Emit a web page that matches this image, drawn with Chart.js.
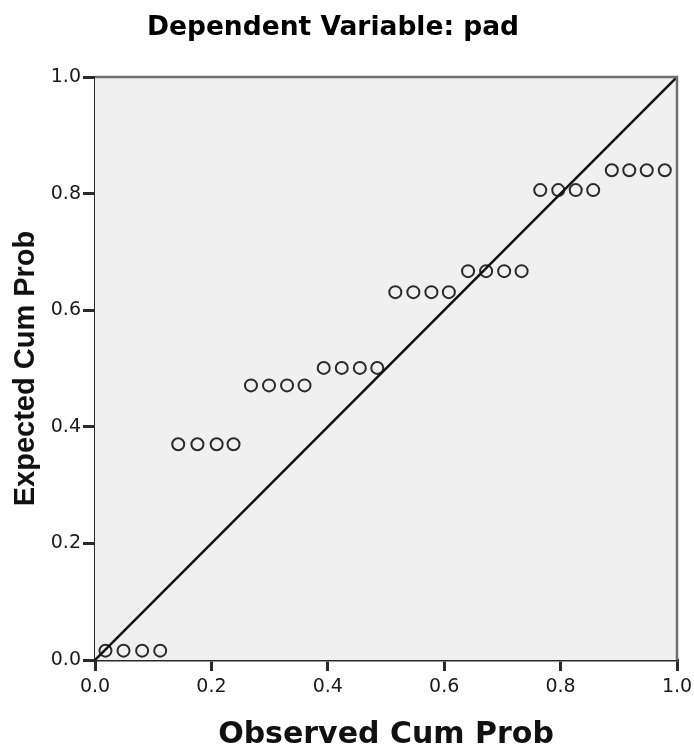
<!DOCTYPE html>
<html>
<head>
<meta charset="utf-8">
<script src="https://cdn.jsdelivr.net/npm/chart.js@4.4.0/dist/chart.umd.min.js"></script>
<style>
  html, body { margin: 0; padding: 0; background: #fff; }
  #wrap { width: 694px; height: 749px; }
</style>
</head>
<body>
<div id="wrap"><canvas id="myChart" width="694" height="749"></canvas></div>
<script>
    // P-P plot of regression standardized residual
    const chartTitle = 'Dependent Variable: pad';
    const xTitle = 'Observed Cum Prob';
    const yTitle = 'Expected Cum Prob';

    const observedCum = [0.018, 0.049, 0.081, 0.112, 0.143, 0.176, 0.209, 0.238,
        0.268, 0.299, 0.330, 0.360, 0.393, 0.424, 0.455, 0.485,
        0.516, 0.547, 0.578, 0.608, 0.641, 0.672, 0.703, 0.733,
        0.765, 0.796, 0.826, 0.856, 0.888, 0.918, 0.948, 0.979];
    const expectedCum = [0.016, 0.016, 0.016, 0.016, 0.370, 0.370, 0.370, 0.370,
        0.471, 0.471, 0.471, 0.471, 0.501, 0.501, 0.501, 0.501,
        0.631, 0.631, 0.631, 0.631, 0.667, 0.667, 0.667, 0.667,
        0.806, 0.806, 0.806, 0.806, 0.840, 0.840, 0.840, 0.840];
    const refLineX = [0, 1];
    const refLineY = [0, 1];

    const points = observedCum.map((v, i) => ({x: v, y: expectedCum[i]}));
    const refLine = refLineX.map((v, i) => ({x: v, y: refLineY[i]}));

    const plotBox = {
        id: 'plotBox',
        beforeDatasetsDraw(chart) {
            const {ctx, chartArea: a} = chart;
            ctx.save();
            ctx.fillStyle = '#f0f0f0';
            ctx.fillRect(a.left, a.top, a.right - a.left, a.bottom - a.top);
            ctx.restore();
        },
        afterDraw(chart) {
            const {ctx, chartArea: a} = chart;
            ctx.save();
            ctx.strokeStyle = '#6e6e6e';
            ctx.lineWidth = 2.5;
            ctx.beginPath();
            ctx.moveTo(a.left, a.top);
            ctx.lineTo(a.right, a.top);
            ctx.lineTo(a.right, a.bottom);
            ctx.stroke();
            ctx.fillStyle = '#000';
            ctx.font = 'bold 26.5px "DejaVu Sans"';
            ctx.textAlign = 'center';
            ctx.textBaseline = 'middle';
            ctx.fillText(chartTitle, 333, 28);
            ctx.restore();
        }
    };

    const tickFmt = function(value) {
        return Number(value).toFixed(1);
    };

    const ctx = document.getElementById('myChart').getContext('2d');
    const myChart = new Chart(ctx, {
        type: 'scatter',
        data: {
            datasets: [{
                type: 'line',
                data: refLine,
                borderColor: '#111',
                borderWidth: 2.5,
                pointRadius: 0,
                fill: false
            }, {
                data: points,
                pointRadius: 6,
                pointBorderWidth: 2,
                pointBorderColor: '#2a2a2a',
                pointBackgroundColor: 'rgba(0,0,0,0)'
            }]
        },
        options: {
            responsive: false,
            animation: false,
            layout: {
                padding: {top: 77, right: 17, left: 0, bottom: 0}
            },
            plugins: {
                legend: { display: false },
                tooltip: { enabled: false }
            },
            scales: {
                x: {
                    type: 'linear',
                    min: 0,
                    max: 1,
                    afterFit: function(s) {
                        s.height = 89;
                        s.paddingLeft = 0;
                        s.paddingRight = 0;
                    },
                    grid: {
                        drawOnChartArea: false,
                        color: '#2a2a2a',
                        tickLength: 11,
                        tickWidth: 3,
                        lineWidth: 3
                    },
                    border: { color: '#2a2a2a', width: 2.5 },
                    ticks: {
                        stepSize: 0.2,
                        padding: 5,
                        color: '#1a1a1a',
                        font: { family: 'DejaVu Sans', size: 19 },
                        callback: tickFmt
                    },
                    title: {
                        display: true,
                        text: xTitle,
                        color: '#111',
                        font: { family: 'DejaVu Sans', size: 30, weight: 'bold', lineHeight: 0.9 },
                        padding: 0
                    }
                },
                y: {
                    type: 'linear',
                    min: 0,
                    max: 1,
                    afterFit: function(s) {
                        s.width = 95;
                        s.paddingTop = 0;
                        s.paddingBottom = 0;
                    },
                    grid: {
                        drawOnChartArea: false,
                        color: '#2a2a2a',
                        tickLength: 12,
                        tickWidth: 3,
                        lineWidth: 3
                    },
                    border: { color: '#2a2a2a', width: 3 },
                    ticks: {
                        stepSize: 0.2,
                        padding: 2,
                        color: '#1a1a1a',
                        font: { family: 'DejaVu Sans', size: 19 },
                        callback: tickFmt
                    },
                    title: {
                        display: true,
                        text: yTitle,
                        color: '#111',
                        font: { family: 'Liberation Sans', size: 29, weight: 'bold', lineHeight: 1 },
                        padding: {top: 11, bottom: 0}
                    }
                }
            }
        },
        plugins: [plotBox]
    });
</script>
</body>
</html>
